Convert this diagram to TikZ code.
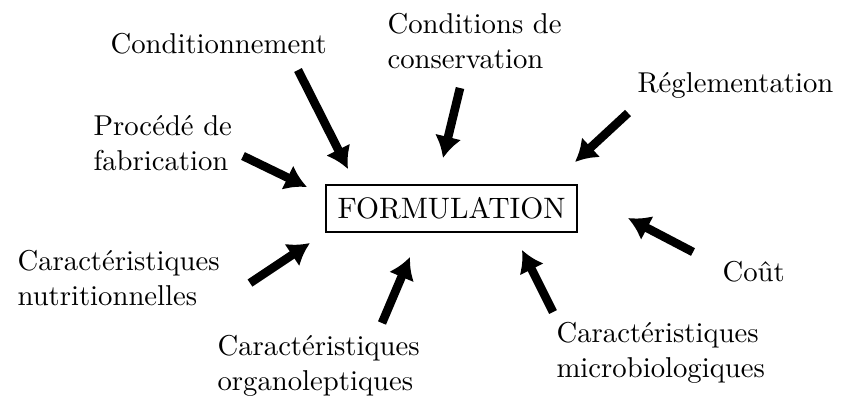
\documentclass[tikz,border=0pt]{standalone}
\usetikzlibrary{arrows.meta}
\begin{document}
\begin{tikzpicture}[>={Latex[length=7.5pt,width=9.5pt]},x=.3484pt,y=-.3484pt,
        flow/.style={->,line width=3pt},
        lbl/.style={anchor=base west,align=left,inner sep=0pt}]
        \useasboundingbox(0,0)rectangle(842,401);
        \node[draw,thick,minimum width=87.5pt,minimum height=16.4pt,inner sep=0pt,font=\fontsize{10.3}{12}\selectfont](form)at(451.5,208.5){FORMULATION};
        % les facteurs
        \node[lbl](cond)at(110,53){Conditionnement};
        \node[lbl](cons)at(387,68){Conditions de\\conservation};
        \node[lbl](regl)at(637,92){Réglementation};
        \node[lbl](proc)at(93,170){Procédé de\\fabrication};
        \node[lbl](nutr)at(17,305){Caractéristiques\\nutritionnelles};
        \node[lbl](orga)at(217,390){Caractéristiques\\organoleptiques};
        \node[lbl](micr)at(556,377){Caractéristiques\\microbiologiques};
        \node[lbl](cout)at(722,281){Coût};
        % les fleches
        \coordinate(cond-s)at(298,70);\coordinate(cond-e)at(348,169);
        \coordinate(cons-s)at(460,88);\coordinate(cons-e)at(443,158);
        \coordinate(regl-s)at(628,113);\coordinate(regl-e)at(575,162);
        \coordinate(proc-s)at(243,156);\coordinate(proc-e)at(307,187);
        \coordinate(nutr-s)at(250,283);\coordinate(nutr-e)at(310,243);
        \coordinate(orga-s)at(382,323);\coordinate(orga-e)at(410,257);
        \coordinate(micr-s)at(553,312);\coordinate(micr-e)at(522,250);
        \coordinate(cout-s)at(693,252);\coordinate(cout-e)at(628,218);
        \foreach \f in {cond,cons,regl,proc,nutr,orga,micr,cout}
            \draw[flow](\f-s)--(\f-e);
\end{tikzpicture}
\end{document}
